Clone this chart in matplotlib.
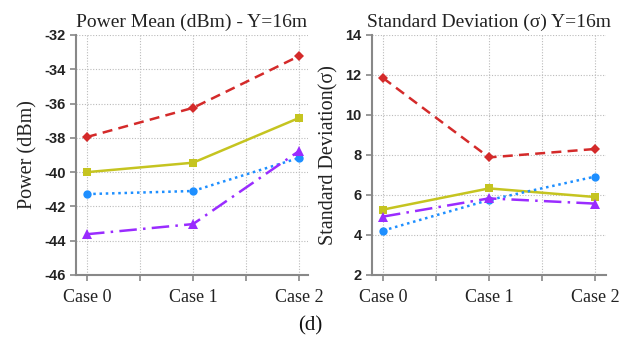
import matplotlib
matplotlib.use("Agg")
import matplotlib.pyplot as plt
import numpy as np

cases = ["Case 0", "Case 1", "Case 2"]

power_red = [-37.95, -36.25, -33.23]
power_yellow = [-40.0, -39.45, -36.84]
power_blue = [-41.28, -41.1, -39.17]
power_purple = [-43.62, -43.03, -38.77]

std_red = [11.85, 7.88, 8.3]
std_yellow = [5.27, 6.33, 5.9]
std_blue = [4.22, 5.75, 6.92]
std_purple = [4.92, 5.83, 5.57]

power_ticks = [-46, -44, -42, -40, -38, -36, -34, -32]
std_ticks = [2, 4, 6, 8, 10, 12, 14]

RED = "#d42a2a"
YEL = "#c5c420"
BLU = "#1e8fff"
PUR = "#9a2cff"

series_style = [
    dict(color=RED, linestyle=(0, (4, 2.5)), marker="D", markersize=5.5),
    dict(color=YEL, linestyle="-", marker="s", markersize=6),
    dict(color=BLU, linestyle=(0, (1, 1.5)), marker="o", markersize=6),
    dict(color=PUR, linestyle=(0, (7, 2.5, 1, 2.5)), marker="^", markersize=7),
]

serif = "Liberation Serif"
sans = "Liberation Sans"

fig = plt.figure(figsize=(6.21, 3.5), dpi=100)
ax1 = fig.add_axes([76/621, 1-275/350, 232/621, 240/350])
ax2 = fig.add_axes([372/621, 1-275/350, 234/621, 240/350])

x = np.arange(len(cases))

def style(ax, ticks, title, ylabel, data, xmax):
    for vals, st in zip(data, series_style):
        ax.plot(x, vals, linewidth=1.8, markeredgewidth=0, **st)
    ax.set_ylim(ticks[0], ticks[-1])
    ax.set_xlim(-0.104, xmax)
    ax.set_yticks(ticks)
    ax.set_yticklabels([str(t) for t in ticks], fontname=sans, fontsize=10.5,
                       fontweight="bold", color="#222222")
    ax.set_xticks([0, 0.5, 1, 1.5, 2])
    ax.set_xticklabels([cases[0], "", cases[1], "", cases[2]], fontname=serif,
                       fontsize=13, color="#222222")
    ax.grid(True, linestyle=(0, (1, 1.5)), color="#bbbbbb", linewidth=0.8)
    for s in ["top", "right"]:
        ax.spines[s].set_visible(False)
    for s in ["left", "bottom"]:
        ax.spines[s].set_color("#888888")
        ax.spines[s].set_linewidth(1.5)
    ax.tick_params(axis="both", color="#888888", length=4, width=1.2)
    ax.tick_params(axis="x", pad=6)
    ax.set_title(title, fontname=serif, fontsize=14, color="#222222", pad=6)
    ax.set_ylabel(ylabel, fontname=serif, fontsize=14.5, color="#222222", labelpad=5)

style(ax1, power_ticks, "Power Mean (dBm) - Y=16m", "Power (dBm)",
      [power_red, power_yellow, power_blue, power_purple], 2.085)
style(ax2, std_ticks, "Standard Deviation (\u03c3) Y=16m", "Standard Deviation(\u03c3)",
      [std_red, std_yellow, std_blue, std_purple], 2.104)

fig.text(0.5, 1-326/350, "(d)", fontname=serif, fontsize=15, ha="center", va="center",
         color="#111111")

fig.savefig("out.png", dpi=100)
